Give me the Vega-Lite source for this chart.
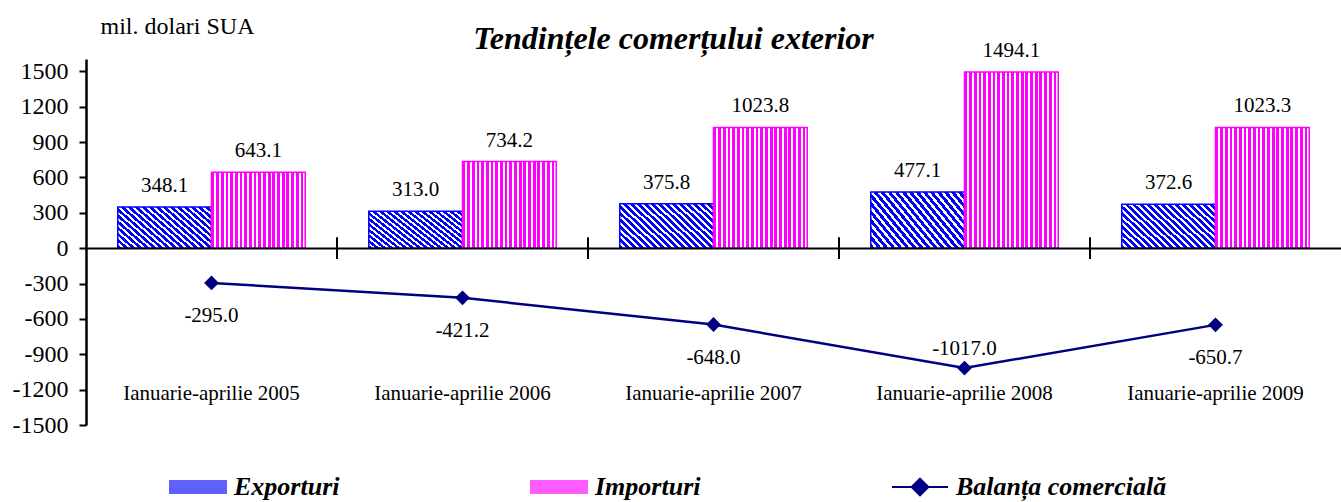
{
  "$schema": "https://vega.github.io/schema/vega-lite/v6.json",
  "width": 1255,
  "height": 366,
  "autosize": "none",
  "padding": {"left": 86, "top": 59, "right": 0, "bottom": 77},
  "background": "white",
  "title": {"text": "Tendințele comerțului exterior", "font": "Liberation Serif", "fontSize": 32, "fontWeight": "bold", "fontStyle": "italic", "color": "black", "anchor": "middle", "frame": "group", "dx": -40, "dy": 46, "offset": 4},
  "config": {
    "view": {"stroke": null},
    "locale": {"number": {"decimal": ".", "thousands": ",", "grouping": [3], "currency": ["$", ""], "minus": "-"}},
    "axis": {"grid": false, "labelFont": "Liberation Serif", "labelColor": "black", "domainColor": "black", "tickColor": "black"}
  },
  "data": {"values": [
    {"cat": "Ianuarie-aprilie 2005", "series": "Exporturi", "value": 348.1},
    {"cat": "Ianuarie-aprilie 2005", "series": "Importuri", "value": 643.1},
    {"cat": "Ianuarie-aprilie 2005", "series": "Balanța comercială", "value": -295.0},
    {"cat": "Ianuarie-aprilie 2006", "series": "Exporturi", "value": 313.0},
    {"cat": "Ianuarie-aprilie 2006", "series": "Importuri", "value": 734.2},
    {"cat": "Ianuarie-aprilie 2006", "series": "Balanța comercială", "value": -421.2},
    {"cat": "Ianuarie-aprilie 2007", "series": "Exporturi", "value": 375.8},
    {"cat": "Ianuarie-aprilie 2007", "series": "Importuri", "value": 1023.8},
    {"cat": "Ianuarie-aprilie 2007", "series": "Balanța comercială", "value": -648.0},
    {"cat": "Ianuarie-aprilie 2008", "series": "Exporturi", "value": 477.1},
    {"cat": "Ianuarie-aprilie 2008", "series": "Importuri", "value": 1494.1},
    {"cat": "Ianuarie-aprilie 2008", "series": "Balanța comercială", "value": -1017.0},
    {"cat": "Ianuarie-aprilie 2009", "series": "Exporturi", "value": 372.6},
    {"cat": "Ianuarie-aprilie 2009", "series": "Importuri", "value": 1023.3},
    {"cat": "Ianuarie-aprilie 2009", "series": "Balanța comercială", "value": -650.7}
  ]},
  "encoding": {
    "x": {"field": "cat", "type": "nominal", "sort": null,
      "scale": {"paddingInner": 0, "paddingOuter": 0},
      "axis": {"title": null, "orient": "bottom", "offset": -177, "zindex": 1, "domainWidth": 2, "domainColor": "black", "ticks": true, "tickSize": 11, "tickColor": "transparent", "labelFont": "Liberation Serif", "labelFontSize": 21, "labelPadding": 123, "labelAngle": 0}},
    "y": {"field": "value", "type": "quantitative",
      "scale": {"domain": [-1500, 1604], "nice": false, "zero": false},
      "axis": {"values": [-1500, -1200, -900, -600, -300, 0, 300, 600, 900, 1200, 1500], "labelExpr": "'' + datum.value", "title": "mil. dolari SUA", "titleAngle": 0, "titleAlign": "left", "titleBaseline": "alphabetic", "titleX": 14, "titleY": -26, "titleFont": "Liberation Serif", "titleFontSize": 24, "titleFontWeight": "normal", "titleColor": "black", "labelFont": "Liberation Serif", "labelFontSize": 24, "tickSize": 7, "tickWidth": 2, "domainWidth": 2.5, "labelPadding": 11, "zindex": 1}}
  },
  "layer": [
    {
      "transform": [{"filter": "datum.series === 'Exporturi'"}],
      "mark": {"type": "bar", "strokeWidth": 1.5, "stroke": "#0000FF",
        "fill": {"gradient": "linear", "x1": 0, "y1": 1, "x2": 1.2, "y2": 0.4, "stops": [
          {"offset": 0, "color": "#0000FF"}, {"offset": 0.028, "color": "#0000FF"}, {"offset": 0.028, "color": "#FFFFFF"}, {"offset": 0.05, "color": "#FFFFFF"},
          {"offset": 0.05, "color": "#0000FF"}, {"offset": 0.078, "color": "#0000FF"}, {"offset": 0.078, "color": "#FFFFFF"}, {"offset": 0.1, "color": "#FFFFFF"},
          {"offset": 0.1, "color": "#0000FF"}, {"offset": 0.128, "color": "#0000FF"}, {"offset": 0.128, "color": "#FFFFFF"}, {"offset": 0.15, "color": "#FFFFFF"},
          {"offset": 0.15, "color": "#0000FF"}, {"offset": 0.178, "color": "#0000FF"}, {"offset": 0.178, "color": "#FFFFFF"}, {"offset": 0.2, "color": "#FFFFFF"},
          {"offset": 0.2, "color": "#0000FF"}, {"offset": 0.228, "color": "#0000FF"}, {"offset": 0.228, "color": "#FFFFFF"}, {"offset": 0.25, "color": "#FFFFFF"},
          {"offset": 0.25, "color": "#0000FF"}, {"offset": 0.278, "color": "#0000FF"}, {"offset": 0.278, "color": "#FFFFFF"}, {"offset": 0.3, "color": "#FFFFFF"},
          {"offset": 0.3, "color": "#0000FF"}, {"offset": 0.328, "color": "#0000FF"}, {"offset": 0.328, "color": "#FFFFFF"}, {"offset": 0.35, "color": "#FFFFFF"},
          {"offset": 0.35, "color": "#0000FF"}, {"offset": 0.378, "color": "#0000FF"}, {"offset": 0.378, "color": "#FFFFFF"}, {"offset": 0.4, "color": "#FFFFFF"},
          {"offset": 0.4, "color": "#0000FF"}, {"offset": 0.428, "color": "#0000FF"}, {"offset": 0.428, "color": "#FFFFFF"}, {"offset": 0.45, "color": "#FFFFFF"},
          {"offset": 0.45, "color": "#0000FF"}, {"offset": 0.478, "color": "#0000FF"}, {"offset": 0.478, "color": "#FFFFFF"}, {"offset": 0.5, "color": "#FFFFFF"},
          {"offset": 0.5, "color": "#0000FF"}, {"offset": 0.528, "color": "#0000FF"}, {"offset": 0.528, "color": "#FFFFFF"}, {"offset": 0.55, "color": "#FFFFFF"},
          {"offset": 0.55, "color": "#0000FF"}, {"offset": 0.578, "color": "#0000FF"}, {"offset": 0.578, "color": "#FFFFFF"}, {"offset": 0.6, "color": "#FFFFFF"},
          {"offset": 0.6, "color": "#0000FF"}, {"offset": 0.628, "color": "#0000FF"}, {"offset": 0.628, "color": "#FFFFFF"}, {"offset": 0.65, "color": "#FFFFFF"},
          {"offset": 0.65, "color": "#0000FF"}, {"offset": 0.678, "color": "#0000FF"}, {"offset": 0.678, "color": "#FFFFFF"}, {"offset": 0.7, "color": "#FFFFFF"},
          {"offset": 0.7, "color": "#0000FF"}, {"offset": 0.728, "color": "#0000FF"}, {"offset": 0.728, "color": "#FFFFFF"}, {"offset": 0.75, "color": "#FFFFFF"},
          {"offset": 0.75, "color": "#0000FF"}, {"offset": 0.778, "color": "#0000FF"}, {"offset": 0.778, "color": "#FFFFFF"}, {"offset": 0.8, "color": "#FFFFFF"},
          {"offset": 0.8, "color": "#0000FF"}, {"offset": 0.828, "color": "#0000FF"}, {"offset": 0.828, "color": "#FFFFFF"}, {"offset": 0.85, "color": "#FFFFFF"},
          {"offset": 0.85, "color": "#0000FF"}, {"offset": 0.878, "color": "#0000FF"}, {"offset": 0.878, "color": "#FFFFFF"}, {"offset": 0.9, "color": "#FFFFFF"},
          {"offset": 0.9, "color": "#0000FF"}, {"offset": 0.928, "color": "#0000FF"}, {"offset": 0.928, "color": "#FFFFFF"}, {"offset": 0.95, "color": "#FFFFFF"},
          {"offset": 0.95, "color": "#0000FF"}, {"offset": 0.978, "color": "#0000FF"}, {"offset": 0.978, "color": "#FFFFFF"}, {"offset": 1, "color": "#FFFFFF"}
        ]}},
      "encoding": {
        "y2": {"datum": 0},
        "xOffset": {"field": "series", "type": "nominal", "scale": {"domain": ["Exporturi", "Importuri"], "paddingInner": 0, "paddingOuter": 0.339}}
      }
    },
    {
      "transform": [{"filter": "datum.series === 'Importuri'"}],
      "mark": {"type": "bar", "strokeWidth": 1.5, "stroke": "#FF00FF",
        "fill": {"gradient": "linear", "x1": 0, "y1": 0, "x2": 1, "y2": 0, "stops": [
          {"offset": 0, "color": "#FF00FF"}, {"offset": 0.03, "color": "#FF00FF"}, {"offset": 0.03, "color": "#FFFFFF"}, {"offset": 0.05, "color": "#FFFFFF"},
          {"offset": 0.05, "color": "#FF00FF"}, {"offset": 0.08, "color": "#FF00FF"}, {"offset": 0.08, "color": "#FFFFFF"}, {"offset": 0.1, "color": "#FFFFFF"},
          {"offset": 0.1, "color": "#FF00FF"}, {"offset": 0.13, "color": "#FF00FF"}, {"offset": 0.13, "color": "#FFFFFF"}, {"offset": 0.15, "color": "#FFFFFF"},
          {"offset": 0.15, "color": "#FF00FF"}, {"offset": 0.18, "color": "#FF00FF"}, {"offset": 0.18, "color": "#FFFFFF"}, {"offset": 0.2, "color": "#FFFFFF"},
          {"offset": 0.2, "color": "#FF00FF"}, {"offset": 0.23, "color": "#FF00FF"}, {"offset": 0.23, "color": "#FFFFFF"}, {"offset": 0.25, "color": "#FFFFFF"},
          {"offset": 0.25, "color": "#FF00FF"}, {"offset": 0.28, "color": "#FF00FF"}, {"offset": 0.28, "color": "#FFFFFF"}, {"offset": 0.3, "color": "#FFFFFF"},
          {"offset": 0.3, "color": "#FF00FF"}, {"offset": 0.33, "color": "#FF00FF"}, {"offset": 0.33, "color": "#FFFFFF"}, {"offset": 0.35, "color": "#FFFFFF"},
          {"offset": 0.35, "color": "#FF00FF"}, {"offset": 0.38, "color": "#FF00FF"}, {"offset": 0.38, "color": "#FFFFFF"}, {"offset": 0.4, "color": "#FFFFFF"},
          {"offset": 0.4, "color": "#FF00FF"}, {"offset": 0.43, "color": "#FF00FF"}, {"offset": 0.43, "color": "#FFFFFF"}, {"offset": 0.45, "color": "#FFFFFF"},
          {"offset": 0.45, "color": "#FF00FF"}, {"offset": 0.48, "color": "#FF00FF"}, {"offset": 0.48, "color": "#FFFFFF"}, {"offset": 0.5, "color": "#FFFFFF"},
          {"offset": 0.5, "color": "#FF00FF"}, {"offset": 0.53, "color": "#FF00FF"}, {"offset": 0.53, "color": "#FFFFFF"}, {"offset": 0.55, "color": "#FFFFFF"},
          {"offset": 0.55, "color": "#FF00FF"}, {"offset": 0.58, "color": "#FF00FF"}, {"offset": 0.58, "color": "#FFFFFF"}, {"offset": 0.6, "color": "#FFFFFF"},
          {"offset": 0.6, "color": "#FF00FF"}, {"offset": 0.63, "color": "#FF00FF"}, {"offset": 0.63, "color": "#FFFFFF"}, {"offset": 0.65, "color": "#FFFFFF"},
          {"offset": 0.65, "color": "#FF00FF"}, {"offset": 0.68, "color": "#FF00FF"}, {"offset": 0.68, "color": "#FFFFFF"}, {"offset": 0.7, "color": "#FFFFFF"},
          {"offset": 0.7, "color": "#FF00FF"}, {"offset": 0.73, "color": "#FF00FF"}, {"offset": 0.73, "color": "#FFFFFF"}, {"offset": 0.75, "color": "#FFFFFF"},
          {"offset": 0.75, "color": "#FF00FF"}, {"offset": 0.78, "color": "#FF00FF"}, {"offset": 0.78, "color": "#FFFFFF"}, {"offset": 0.8, "color": "#FFFFFF"},
          {"offset": 0.8, "color": "#FF00FF"}, {"offset": 0.83, "color": "#FF00FF"}, {"offset": 0.83, "color": "#FFFFFF"}, {"offset": 0.85, "color": "#FFFFFF"},
          {"offset": 0.85, "color": "#FF00FF"}, {"offset": 0.88, "color": "#FF00FF"}, {"offset": 0.88, "color": "#FFFFFF"}, {"offset": 0.9, "color": "#FFFFFF"},
          {"offset": 0.9, "color": "#FF00FF"}, {"offset": 0.93, "color": "#FF00FF"}, {"offset": 0.93, "color": "#FFFFFF"}, {"offset": 0.95, "color": "#FFFFFF"},
          {"offset": 0.95, "color": "#FF00FF"}, {"offset": 0.98, "color": "#FF00FF"}, {"offset": 0.98, "color": "#FFFFFF"}, {"offset": 1, "color": "#FFFFFF"}
        ]}},
      "encoding": {
        "y2": {"datum": 0},
        "xOffset": {"field": "series", "type": "nominal"}
      }
    },
    {
      "transform": [{"filter": "datum.series === 'Exporturi' && datum.cat !== 'Ianuarie-aprilie 2005'"}],
      "mark": {"type": "rule", "strokeWidth": 2, "color": "black"},
      "encoding": {
        "x": {"field": "cat", "type": "nominal", "sort": null, "bandPosition": 0},
        "y": {"datum": 93},
        "y2": {"datum": -93}
      }
    },
    {
      "transform": [{"filter": "datum.series !== 'Balanța comercială'"}],
      "mark": {"type": "text", "baseline": "alphabetic", "dy": -15, "font": "Liberation Serif", "fontSize": 21, "color": "black"},
      "encoding": {
        "xOffset": {"field": "series", "type": "nominal"},
        "text": {"field": "value", "type": "quantitative", "format": ".1f"}
      }
    },
    {
      "transform": [{"filter": "datum.series === 'Balanța comercială'"}],
      "mark": {"type": "line", "strokeWidth": 2.5, "color": "#000080", "point": {"filled": true, "shape": "diamond", "size": 220, "color": "#000080"}},
      "encoding": {
        "color": {"field": "series", "type": "nominal",
          "scale": {"domain": ["Exporturi", "Importuri", "Balanța comercială"], "range": ["#6060FF", "#FF5CFF", "#000080"]},
          "legend": {"orient": "none", "legendX": 83, "legendY": 399, "direction": "horizontal", "title": null, "padding": 0,
            "labelFont": "Liberation Serif", "labelFontSize": 26, "labelFontWeight": "bold", "labelFontStyle": "italic", "labelColor": "black",
            "labelOffset": 7, "columnPadding": 187, "symbolSize": 3136, "labelLimit": 400,
            "encode": {"symbols": {"update": {
              "shape": {"signal": "datum.value === 'Balanța comercială' ? 'M-1,0H1M0,-0.3L0.3,0L0,0.3L-0.3,0Z' : 'M-1,-0.21H1V0.21H-1Z'"},
              "stroke": {"signal": "datum.value === 'Exporturi' ? '#0000FF' : datum.value === 'Importuri' ? '#FF00FF' : '#000080'"},
              "strokeWidth": {"value": 2},
              "size": {"value": 3136},
              "opacity": {"value": 1}
            }}}}}
      }
    },
    {
      "transform": [{"filter": "datum.series === 'Balanța comercială' && datum.cat !== 'Ianuarie-aprilie 2008'"}],
      "mark": {"type": "text", "baseline": "middle", "dy": 33, "font": "Liberation Serif", "fontSize": 21, "color": "black"},
      "encoding": {
        "text": {"field": "value", "type": "quantitative", "format": ".1f"}
      }
    },
    {
      "transform": [{"filter": "datum.series === 'Balanța comercială' && datum.cat === 'Ianuarie-aprilie 2008'"}],
      "mark": {"type": "text", "baseline": "middle", "dy": -19, "font": "Liberation Serif", "fontSize": 21, "color": "black"},
      "encoding": {
        "text": {"field": "value", "type": "quantitative", "format": ".1f"}
      }
    }
  ]
}
